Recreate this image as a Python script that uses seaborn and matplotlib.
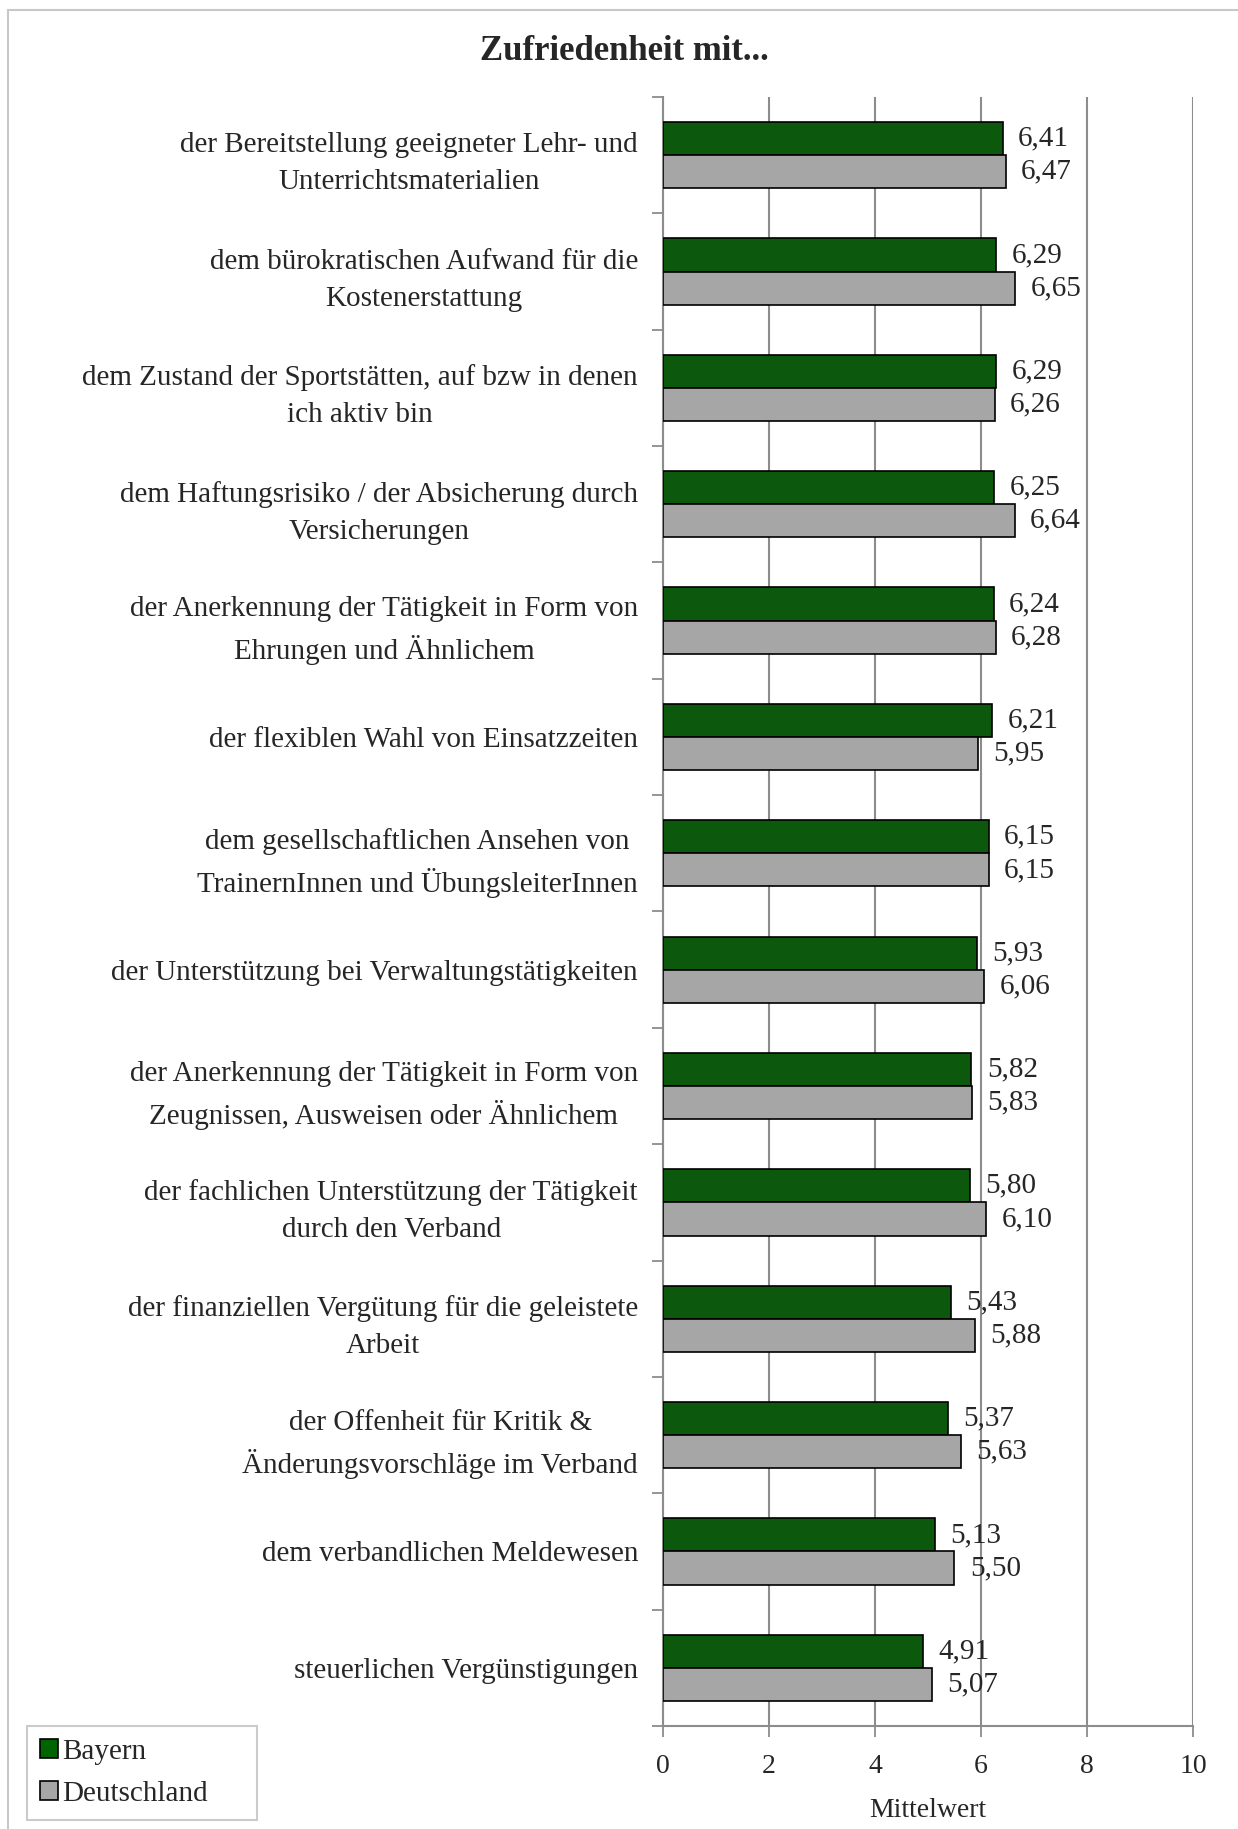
import numpy as np
import pandas as pd
import matplotlib
matplotlib.use("Agg")
import matplotlib.pyplot as plt
from matplotlib.patches import Patch, Rectangle
import seaborn as sns

kategorien = [
    "der Bereitstellung geeigneter Lehr- und\nUnterrichtsmaterialien",
    "dem bürokratischen Aufwand für die\nKostenerstattung",
    "dem Zustand der Sportstätten, auf bzw in denen\nich aktiv bin",
    "dem Haftungsrisiko / der Absicherung durch\nVersicherungen",
    "der Anerkennung der Tätigkeit in Form von\nEhrungen und Ähnlichem",
    "der flexiblen Wahl von Einsatzzeiten",
    "dem gesellschaftlichen Ansehen von\nTrainernInnen und ÜbungsleiterInnen",
    "der Unterstützung bei Verwaltungstätigkeiten",
    "der Anerkennung der Tätigkeit in Form von\nZeugnissen, Ausweisen oder Ähnlichem",
    "der fachlichen Unterstützung der Tätigkeit\ndurch den Verband",
    "der finanziellen Vergütung für die geleistete\nArbeit",
    "der Offenheit für Kritik &\nÄnderungsvorschläge im Verband",
    "dem verbandlichen Meldewesen",
    "steuerlichen Vergünstigungen",
]
bayern = [6.41, 6.29, 6.29, 6.25, 6.24, 6.21, 6.15, 5.93, 5.82, 5.80, 5.43, 5.37, 5.13, 4.91]
deutschland = [6.47, 6.65, 6.26, 6.64, 6.28, 5.95, 6.15, 6.06, 5.83, 6.10, 5.88, 5.63, 5.50, 5.07]
regionen = ["Bayern", "Deutschland"]
farben = ["#006400", "#A6A6A6"]
x_ticks = [0, 2, 4, 6, 8, 10]

df = pd.DataFrame({
    "Kategorie": kategorien * 2,
    "Mittelwert": bayern + deutschland,
    "Region": ["Bayern"] * len(bayern) + ["Deutschland"] * len(deutschland),
})

sns.set_style("white")
plt.rcParams["font.family"] = ["Liberation Serif", "DejaVu Serif"]
grau = "#8C8C8C"

fig = plt.figure(figsize=(12.38, 18.29), dpi=100)
ax = fig.add_axes([663 / 1238, 1 - 1726 / 1829, (1193 - 663) / 1238, (1726 - 97) / 1829])

sns.barplot(data=df, y="Kategorie", x="Mittelwert", hue="Region", orient="h",
            palette=farben, edgecolor="black", linewidth=1.2, width=0.57, gap=0,
            errorbar=None, legend=False, ax=ax, zorder=3)

for cont in ax.containers:
    labels = [f"{b.get_width():.2f}".replace(".", ",") for b in cont]
    ax.bar_label(cont, labels=labels, padding=11, fontsize=21)

ax.set_xlim(0, 10)
ax.set_ylim(len(kategorien) - 0.5, -0.5)
ax.set_xticks(x_ticks)
ax.set_xticklabels([str(t) for t in x_ticks], fontsize=20)
ax.tick_params(axis="x", length=8, width=1.3, color=grau, pad=12, direction="out", bottom=True)
ax.tick_params(axis="y", which="major", length=0, pad=18, labelsize=21)
for lab in ax.get_yticklabels():
    lab.set_multialignment("center")
    lab.set_linespacing(1.55)
ax.set_yticks(np.arange(-0.5, len(kategorien) + 0.5, 1), minor=True)
ax.tick_params(axis="y", which="minor", length=8, width=1.3, color=grau, left=True)
ax.set_ylabel("")
ax.set_xlabel("Mittelwert", fontsize=20, labelpad=14)
ax.xaxis.grid(True, color=grau, linewidth=1.5, zorder=0)
ax.set_axisbelow(True)
sns.despine(ax=ax, top=True, right=True)
for s in ["left", "bottom"]:
    ax.spines[s].set_color(grau)
    ax.spines[s].set_linewidth(1.5)

fig.text(624 / 1238, 1 - 51 / 1829, "Zufriedenheit mit...", ha="center", va="center",
         fontsize=25, fontweight="bold")

handles = [Patch(facecolor=c, edgecolor="black", linewidth=1.2) for c in farben]
leg = fig.legend(handles, regionen, loc="lower left",
                 bbox_to_anchor=(27 / 1238, 1 - 1820 / 1829, (257 - 27) / 1238, (1820 - 1726) / 1829),
                 mode="expand", fontsize=21, frameon=True, fancybox=False,
                 handlelength=0.6, handleheight=0.6, handletextpad=0.15,
                 borderpad=0.45, labelspacing=0.55, borderaxespad=0)
leg.get_frame().set_edgecolor("#BFBFBF")
leg.get_frame().set_linewidth(1.5)

fig.patches.append(Rectangle((8 / 1238, -0.1), 1.2, 1.1 - 10 / 1829, transform=fig.transFigure,
                             fill=False, edgecolor="#C8C8C8", linewidth=1.5))

fig.savefig("out.png", dpi=100)
